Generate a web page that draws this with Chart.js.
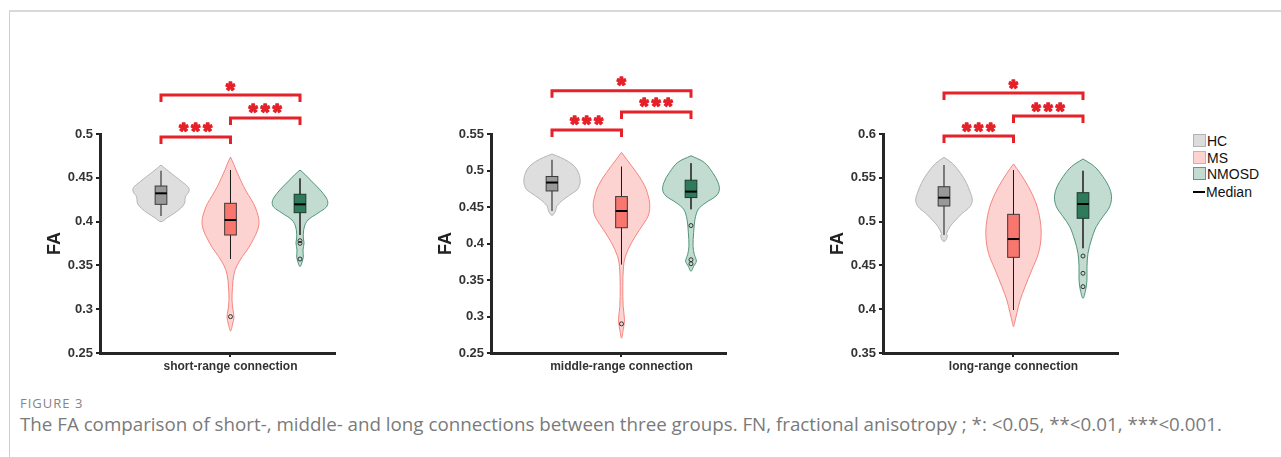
<!DOCTYPE html>
<html><head><meta charset="utf-8">
<script src="https://cdn.jsdelivr.net/npm/chart.js@4.4.1/dist/chart.umd.min.js"></script>
<style>
html,body{margin:0;padding:0;background:#fff;}
body{width:1281px;height:457px;position:relative;overflow:hidden;font-family:"Liberation Sans",Arial,sans-serif;}
.frameTop{position:absolute;left:9px;top:10px;right:0;height:0;border-top:2px solid #d9d9d9;}
.frameLeft{position:absolute;left:9px;top:11px;bottom:0;width:0;border-left:1px solid #cfcfcf;}
canvas{position:absolute;top:0;}
.leg{position:absolute;left:1193px;font-size:14px;color:#111;line-height:16px;height:16px;white-space:nowrap;}
.leg .sw{display:inline-block;width:11px;height:11px;vertical-align:-1px;margin-right:1px;border:1px solid;}
.leg .ln{display:inline-block;width:12px;height:0;border-top:2px solid #000;vertical-align:4px;margin-right:1px;}
#cap1{position:absolute;left:20px;top:394px;font-family:"Open Sans",sans-serif;font-size:13px;color:#858585;letter-spacing:1px;white-space:nowrap;}
#cap2{position:absolute;left:20px;top:411px;font-family:"Open Sans",sans-serif;font-size:16px;color:#7a7a7a;white-space:nowrap;display:inline-block;}
</style></head>
<body>
<div class="frameTop"></div><div class="frameLeft"></div>
<canvas id="c0" width="306" height="380" style="left:30px"></canvas>
<canvas id="c1" width="306" height="380" style="left:421px"></canvas>
<canvas id="c2" width="306" height="380" style="left:813px"></canvas>
<div class="leg" style="top:133px"><span class="sw" style="background:#dcdcdc;border-color:#b3b3b3"></span>HC</div>
<div class="leg" style="top:150px"><span class="sw" style="background:#fdd3d1;border-color:#f3a09b"></span>MS</div>
<div class="leg" style="top:166px"><span class="sw" style="background:#c3dcd1;border-color:#5f9a80"></span>NMOSD</div>
<div class="leg" style="top:184px"><span class="ln"></span>Median</div>
<div id="cap1">FIGURE 3</div>
<div id="cap2">The FA comparison of short-, middle- and long connections between three groups. FN, fractional anisotropy ; *: &lt;0.05, **&lt;0.01, ***&lt;0.001.</div>
<script>
// ---------- data ----------
const panelLabels = ['short-range connection', 'middle-range connection', 'long-range connection'];
const groupNames = ['HC', 'MS', 'NMOSD'];
const yTicksShort = [0.25, 0.3, 0.35, 0.4, 0.45, 0.5];
const yTicksMiddle = [0.25, 0.3, 0.35, 0.4, 0.45, 0.5, 0.55];
const yTicksLong = [0.35, 0.4, 0.45, 0.5, 0.55, 0.6];

// box statistics [HC, MS, NMOSD]
const shortQ1 = [0.4197, 0.3847, 0.4102];
const shortMedian = [0.4323, 0.4018, 0.4197];
const shortQ3 = [0.4406, 0.4209, 0.4312];
const shortLow = [0.4064, 0.3573, 0.3847];
const shortHigh = [0.4581, 0.4589, 0.4494];
const shortOutliers = [[], [0.2915], [0.3782, 0.3752, 0.3573]];

const middleQ1 = [0.4720, 0.4216, 0.4629];
const middleMedian = [0.4835, 0.4445, 0.4711];
const middleQ3 = [0.4918, 0.4643, 0.4867];
const middleLow = [0.4445, 0.3711, 0.4468];
const middleHigh = [0.5147, 0.5055, 0.5101];
const middleOutliers = [[], [0.2899], [0.4246, 0.3778, 0.3722]];

const longQ1 = [0.5178, 0.4592, 0.5038];
const longMedian = [0.5273, 0.4801, 0.5201];
const longQ3 = [0.5398, 0.5083, 0.5330];
const longLow = [0.4847, 0.3991, 0.4695];
const longHigh = [0.5646, 0.5589, 0.5581];
const longOutliers = [[], [], [0.4607, 0.4410, 0.4257]];

// violin outlines: [FA value, half width]
const shortViolinHC = [[0.4646,0],[0.4580,0.10],[0.4513,0.21],[0.4450,0.31],[0.4400,0.385],[0.4370,0.405],[0.4330,0.395],[0.4298,0.36],[0.4250,0.345],[0.4209,0.34],[0.4150,0.28],[0.4095,0.19],[0.4045,0.09],[0.3999,0]];
const shortViolinMS = [[0.4737,0],[0.4650,0.05],[0.4589,0.08],[0.4500,0.13],[0.4399,0.19],[0.4300,0.26],[0.4209,0.33],[0.4100,0.385],[0.4000,0.41],[0.3904,0.39],[0.3800,0.33],[0.3700,0.26],[0.3600,0.17],[0.3500,0.095],[0.3400,0.05],[0.3250,0.028],[0.3100,0.022],[0.2990,0.036],[0.2910,0.05],[0.2830,0.03],[0.2750,0]];
const shortViolinNMOSD = [[0.4589,0],[0.4540,0.07],[0.4475,0.15],[0.4361,0.29],[0.4281,0.37],[0.4224,0.40],[0.4167,0.38],[0.4098,0.26],[0.4018,0.115],[0.3938,0.062],[0.3824,0.047],[0.3756,0.058],[0.3676,0.043],[0.3596,0.047],[0.3527,0.025],[0.3485,0]];

const middleViolinHC = [[0.5225,0],[0.5180,0.12],[0.5120,0.24],[0.5050,0.33],[0.4960,0.385],[0.4844,0.405],[0.4743,0.37],[0.4698,0.31],[0.4606,0.17],[0.4514,0.07],[0.4445,0.05],[0.4385,0]];
const middleViolinMS = [[0.5248,0],[0.5156,0.072],[0.4973,0.215],[0.4789,0.335],[0.4606,0.397],[0.4514,0.407],[0.4376,0.383],[0.4193,0.263],[0.4010,0.144],[0.3826,0.057],[0.3688,0.029],[0.3413,0.019],[0.3138,0.024],[0.2954,0.043],[0.2817,0.024],[0.2702,0]];
const middleViolinNMOSD = [[0.5202,0],[0.5111,0.19],[0.4973,0.31],[0.4835,0.39],[0.4729,0.407],[0.4651,0.36],[0.4560,0.215],[0.4468,0.105],[0.4330,0.057],[0.4147,0.038],[0.3963,0.029],[0.3849,0.048],[0.3757,0.077],[0.3688,0.038],[0.3619,0]];

const longViolinHC = [[0.5734,0],[0.5665,0.12],[0.5551,0.24],[0.5437,0.325],[0.5323,0.383],[0.5247,0.407],[0.5170,0.373],[0.5095,0.263],[0.5018,0.167],[0.4942,0.086],[0.4866,0.038],[0.4828,0.048],[0.4771,0]];
const longViolinMS = [[0.5658,0],[0.5551,0.096],[0.5398,0.215],[0.5209,0.325],[0.5018,0.383],[0.4828,0.397],[0.4638,0.359],[0.4447,0.263],[0.4257,0.167],[0.4105,0.096],[0.3953,0.048],[0.3839,0.014],[0.3800,0]];
const longViolinNMOSD = [[0.5715,0],[0.5627,0.167],[0.5513,0.287],[0.5398,0.373],[0.5284,0.41],[0.5170,0.383],[0.5056,0.287],[0.4942,0.191],[0.4790,0.12],[0.4638,0.072],[0.4485,0.057],[0.4333,0.057],[0.4219,0.038],[0.4124,0]];

// significance brackets: [from group, to group, height (FA), label]
const shortBrackets = [[1, 2, 0.4966, '***'], [2, 3, 0.5183, '***'], [1, 3, 0.5445, '*']];
const middleBrackets = [[1, 2, 0.5555, '***'], [2, 3, 0.5803, '***'], [1, 3, 0.6092, '*']];
const longBrackets = [[1, 2, 0.5977, '***'], [2, 3, 0.6205, '***'], [1, 3, 0.6468, '*']];

// ---------- styles ----------
const violinFill = ['#dedede', '#fdd3d1', '#c3dcd1'];
const violinEdge = ['#b5b5b5', '#f4857f', '#4e9477'];
const boxFill = ['#999999', '#f8766d', '#2e7b5b'];
const boxEdge = ['#3a3a3a', '#3a3a3a', '#1c3a2c'];
const whiskerColor = ['#5a5a5a', '#1a1a1a', '#4a4a4a'];
const whiskerWidth = [1.5, 1, 2];
const RED = '#e52129';
const BOX_HALF = 0.084;

const panels = [
  {label: panelLabels[0], ticks: yTicksShort, q1: shortQ1, med: shortMedian, q3: shortQ3, lo: shortLow, hi: shortHigh, out: shortOutliers, violins: [shortViolinHC, shortViolinMS, shortViolinNMOSD], brackets: shortBrackets},
  {label: panelLabels[1], ticks: yTicksMiddle, q1: middleQ1, med: middleMedian, q3: middleQ3, lo: middleLow, hi: middleHigh, out: middleOutliers, violins: [middleViolinHC, middleViolinMS, middleViolinNMOSD], brackets: middleBrackets},
  {label: panelLabels[2], ticks: yTicksLong, q1: longQ1, med: longMedian, q3: longQ3, lo: longLow, hi: longHigh, out: longOutliers, violins: [longViolinHC, longViolinMS, longViolinNMOSD], brackets: longBrackets}
];

function outline(profile, cx) {
  const pts = profile.map(([v, w]) => ({x: cx + w, y: v}));
  for (let i = profile.length - 2; i >= 0; i--) {
    const [v, w] = profile[i];
    pts.push({x: cx - w, y: v});
  }
  return pts;
}

function drawStars(ctx, label, cx, cy) {
  ctx.save();
  ctx.fillStyle = RED;
  ctx.strokeStyle = RED;
  ctx.lineWidth = 1.6;
  ctx.lineJoin = 'round';
  ctx.font = 'bold 20px "Liberation Sans"';
  let m = ctx.measureText('*');
  let gw = m.actualBoundingBoxLeft + m.actualBoundingBoxRight;
  const size = 20 * 9 / gw;
  ctx.font = 'bold ' + size.toFixed(2) + 'px "Liberation Sans"';
  m = ctx.measureText('*');
  const asc = m.actualBoundingBoxAscent, desc = m.actualBoundingBoxDescent;
  const left = m.actualBoundingBoxLeft, right = m.actualBoundingBoxRight;
  const n = label.length, pitch = 12;
  ctx.textBaseline = 'alphabetic';
  for (let i = 0; i < n; i++) {
    const sx = cx + (i - (n - 1) / 2) * pitch;
    const tx = sx - (right - left) / 2, ty = cy + (asc - desc) / 2;
    ctx.fillText('*', tx, ty);
    ctx.strokeText('*', tx, ty);
  }
  ctx.restore();
}

function makePlugin(p) {
  return {
    id: 'violinBoxes',
    afterDatasetsDraw(chart) {
      const ctx = chart.ctx, xs = chart.scales.x, ys = chart.scales.y;
      ctx.save();
      for (let g = 0; g < 3; g++) {
        const cx = xs.getPixelForValue(g + 1);
        const xl = xs.getPixelForValue(g + 1 - BOX_HALF), xr = xs.getPixelForValue(g + 1 + BOX_HALF);
        ctx.strokeStyle = whiskerColor[g]; ctx.lineWidth = whiskerWidth[g];
        ctx.beginPath();
        ctx.moveTo(cx, ys.getPixelForValue(p.hi[g]));
        ctx.lineTo(cx, ys.getPixelForValue(p.lo[g]));
        ctx.stroke();
        const yt = ys.getPixelForValue(p.q3[g]), yb = ys.getPixelForValue(p.q1[g]);
        ctx.fillStyle = boxFill[g];
        ctx.fillRect(xl, yt, xr - xl, yb - yt);
        ctx.strokeStyle = boxEdge[g]; ctx.lineWidth = 1;
        ctx.strokeRect(xl, yt, xr - xl, yb - yt);
        const ym = ys.getPixelForValue(p.med[g]);
        ctx.strokeStyle = '#000'; ctx.lineWidth = 2;
        ctx.beginPath(); ctx.moveTo(xl, ym); ctx.lineTo(xr, ym); ctx.stroke();
        ctx.strokeStyle = '#333'; ctx.lineWidth = 1;
        p.out[g].forEach(v => {
          ctx.beginPath(); ctx.arc(cx, ys.getPixelForValue(v), 2, 0, Math.PI * 2); ctx.stroke();
        });
      }
      ctx.restore();
    },
    afterDraw(chart) {
      const ctx = chart.ctx, xs = chart.scales.x, ys = chart.scales.y;
      ctx.save();
      ctx.strokeStyle = RED; ctx.lineWidth = 3; ctx.lineJoin = 'miter'; ctx.lineCap = 'butt';
      p.brackets.forEach(([a, b, v, lab]) => {
        const x1 = xs.getPixelForValue(a), x2 = xs.getPixelForValue(b), y = ys.getPixelForValue(v);
        ctx.beginPath();
        ctx.moveTo(x1, y + 7); ctx.lineTo(x1, y); ctx.lineTo(x2, y); ctx.lineTo(x2, y + 7);
        ctx.stroke();
        drawStars(ctx, lab, (x1 + x2) / 2, y - 9);
      });
      ctx.restore();
    }
  };
}

const tickFont = {family: '"Liberation Sans", Arial, sans-serif', size: 13, weight: 'bold'};
const xTickFont = {family: '"Liberation Sans", Arial, sans-serif', size: 12, weight: 'bold'};

panels.forEach((p, i) => {
  const datasets = p.violins.map((prof, g) => ({
    label: groupNames[g],
    data: outline(prof, g + 1),
    showLine: true,
    fill: 'shape',
    backgroundColor: violinFill[g],
    borderColor: violinEdge[g],
    borderWidth: 1,
    pointRadius: 0,
    tension: 0.35
  }));
  new Chart(document.getElementById('c' + i), {
    type: 'scatter',
    data: {datasets},
    options: {
      responsive: false, animation: false, devicePixelRatio: 1,
      layout: {padding: {top: 134, left: 0, right: 0, bottom: 0}},
      plugins: {legend: {display: false}, tooltip: {enabled: false}},
      scales: {
        x: {
          type: 'linear', min: 0.1223, max: 3.518,
          afterFit: s => { s.height = 27; },
          afterBuildTicks: s => { s.ticks = [{value: 2}]; },
          ticks: {callback: () => p.label, font: xTickFont, color: '#333', padding: 2, maxRotation: 0, autoSkip: false},
          grid: {display: true, drawOnChartArea: false, drawTicks: true, tickLength: 4, color: '#222', lineWidth: 2},
          border: {display: true, color: '#262626', width: 3}
        },
        y: {
          type: 'linear', min: p.ticks[0], max: p.ticks[p.ticks.length - 1],
          afterFit: s => { s.width = 70; },
          afterBuildTicks: s => { s.ticks = p.ticks.map(v => ({value: v})); },
          ticks: {callback: v => String(+v.toFixed(2)), font: tickFont, color: '#333', padding: 3, autoSkip: false},
          title: {display: true, text: 'FA', font: {family: '"Liberation Sans", Arial, sans-serif', size: 18, weight: 'bold'}, color: '#222', padding: {top: 14, bottom: 0}},
          grid: {display: true, drawOnChartArea: false, drawTicks: true, tickLength: 4, color: '#222', lineWidth: 2},
          border: {display: true, color: '#262626', width: 3}
        }
      }
    },
    plugins: [makePlugin(p)]
  });
});

// fit caption width to reference
const cap = document.getElementById('cap2');
const w = cap.getBoundingClientRect().width;
cap.style.fontSize = (16 * 1202 / w).toFixed(2) + 'px';
</script>
</body></html>
